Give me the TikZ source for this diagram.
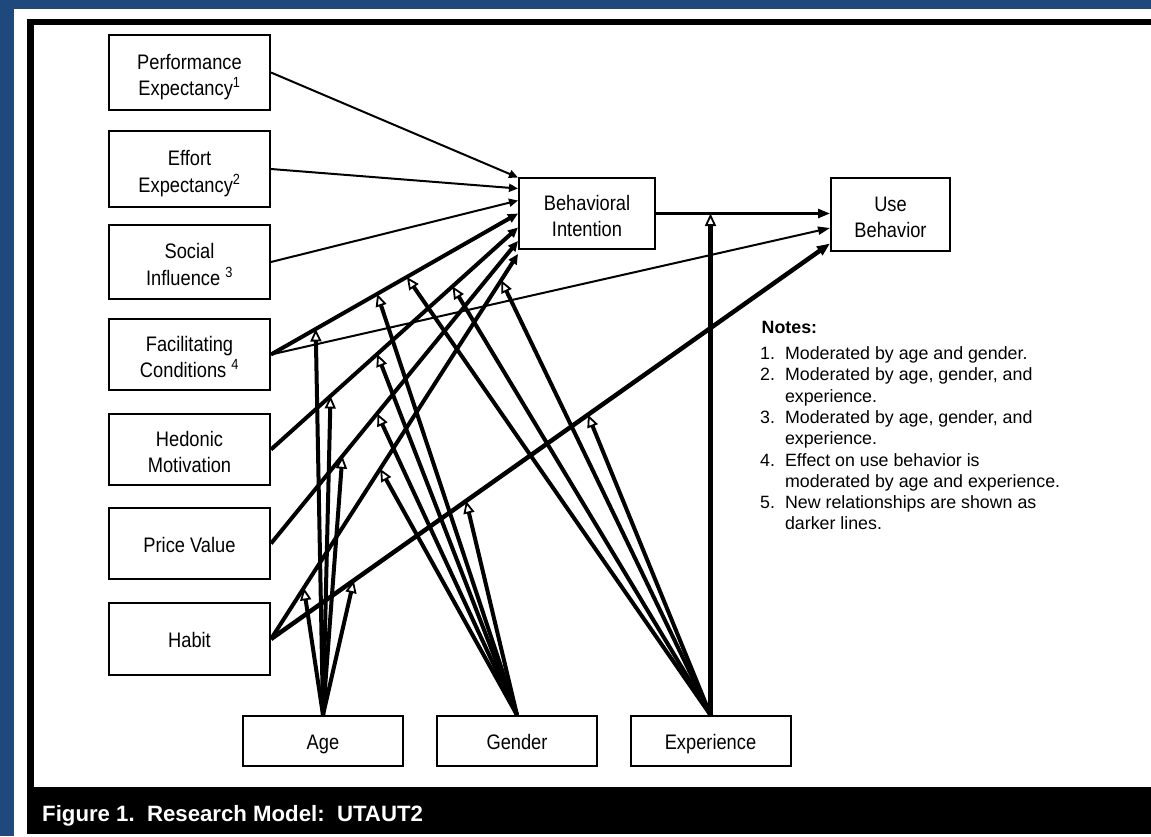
\documentclass[tikz,border=0pt]{standalone}
\usepackage{fontspec}
\setmainfont{Liberation Sans}
\newfontfamily\boxfont[FakeStretch=0.87]{Liberation Sans}
\usetikzlibrary{arrows.meta,calc}
\definecolor{bgblue}{RGB}{31,73,125}
\newcommand{\twoline}[2]{\rule{0pt}{24.7pt}#1\\#2\rule[-5pt]{0pt}{5pt}}
\begin{document}
\begin{tikzpicture}[x=1pt,y=-1pt,
  box/.style={draw, line width=2pt, fill=white, inner sep=0pt, align=center,
    font=\boxfont\fontsize{21}{26.3}\selectfont},
  lbox/.style={box, minimum width=161pt},
  mbox/.style={box, minimum width=160pt, minimum height=50pt, text height=17.1pt, text depth=0pt},
  one/.style={text height=17.1pt, text depth=0pt},
  oldrel/.style={line width=2pt, -{Triangle[length=9pt,width=8pt]}},
  newrel/.style={line width=4pt, -{Triangle[length=10pt,width=9pt]}},
  modarr/.style={line width=4pt, -{Triangle[open,length=12.5pt,width=11pt,line width=1.8pt,fill=white]}}
]
\useasboundingbox (0,0) rectangle (1151,836);
% background and frame
\fill[bgblue] (0,0) rectangle (1151,836);
\fill[white] (14,9) rectangle (1151,836);
\fill[black] (27,19) rectangle (1151,25);
\fill[black] (27,19) rectangle (34,787);
\fill[black] (27,787) rectangle (1151,834);

% boxes
\node[lbox, minimum height=75pt] (pe) at (189.5,72.5) {\twoline{Performance}{Expectancy\textsuperscript{1}}};
\node[lbox, minimum height=76pt] (ee) at (189.5,169) {\twoline{Effort}{Expectancy\textsuperscript{2}}};
\node[lbox, minimum height=74pt] (si) at (189.5,262) {\twoline{Social}{Influence \textsuperscript{3}}};
\node[lbox, minimum height=71pt] (fc) at (189.5,354.5) {\twoline{Facilitating}{Conditions \textsuperscript{4}}};
\node[lbox, minimum height=71pt] (hm) at (189.5,449.5) {\twoline{Hedonic}{Motivation}};
\node[lbox, one, minimum height=71pt] (pv) at (189.5,543.5) {Price Value};
\node[lbox, one, minimum height=72pt] (ht) at (189.5,639) {Habit};
\node[box, minimum width=136pt, minimum height=71pt] (bi) at (587,213.5) {\twoline{Behavioral}{Intention}};
\node[box, minimum width=119pt, minimum height=73pt] (ub) at (890.5,214.5) {\twoline{Use}{Behavior}};
\node[mbox] (age) at (323,741) {Age};
\node[mbox] (gen) at (517,741) {Gender};
\node[mbox] (exp) at (710.5,741) {Experience};

% relationships to BI
\draw[oldrel] (pe.east) -- ($(bi.west)+(0,-36)$);
\draw[oldrel] (ee.east) -- ($(bi.west)+(0,-25)$);
\draw[oldrel] (si.east) -- ($(bi.west)+(0,-13)$);
\draw[newrel] (fc.east) -- coordinate[pos=0.181] (fcA) coordinate[pos=0.43] (fcG) coordinate[pos=0.55] (fcE) ($(bi.west)+(0,0)$);
\draw[newrel] (hm.east) -- coordinate[pos=0.241] (hmA) coordinate[pos=0.43] (hmG) coordinate[pos=0.735] (hmE) ($(bi.west)+(0,14)$);
\draw[newrel] (pv.east) -- coordinate[pos=0.289] (pvA) coordinate[pos=0.43] (pvG) ($(bi.west)+(0,27.5)$);
\draw[newrel] (ht.east) -- coordinate[pos=0.133] (htA) coordinate[pos=0.442] (htG) coordinate[pos=0.932] (htE) ($(bi.west)+(0,40.5)$);
% relationships to UB
\draw[line width=2.6pt, -{Triangle[length=12pt,width=9pt]}] (bi.east) -- (bi.east -| ub.west);
\draw[line width=2pt, -{Triangle[length=12pt,width=8pt]}] (fc.east) -- ($(ub.west)+(0,13.5)$);
\draw[line width=4.5pt, -{Triangle[length=13pt,width=10pt]}] (ht.east) -- coordinate[pos=0.148] (huA) coordinate[pos=0.349] (huG) coordinate[pos=0.567] (huE) ($(ub.west)+(0,29)$);

% moderators
\foreach \t in {fcA,hmA,pvA,htA,huA} \draw[modarr] (age.north) -- (\t);
\foreach \t in {fcG,hmG,pvG,htG,huG} \draw[modarr] (gen.north) -- (\t);
\foreach \t in {fcE,hmE,htE,huE} \draw[modarr] (exp.north) -- (\t);
\draw[modarr, line width=4.5pt] (exp.north) -- (exp.north |- bi.east);

% notes
\node[anchor=base west, inner sep=0pt, font=\fontsize{17.8}{21.3}\selectfont] (notes) at (760,333.5) {%
\begin{tabular}[t]{@{}l@{\hspace{10pt}}l@{}}
\multicolumn{2}{@{}l@{}}{\hspace{1.5pt}\textbf{Notes:}}\\[4.7pt]
1. & Moderated by age and gender.\\
2. & Moderated by age, gender, and\\
   & experience.\\
3. & Moderated by age, gender, and\\
   & experience.\\
4. & Effect on use behavior is\\
   & moderated by age and experience.\\
5. & New relationships are shown as\\
   & darker lines.
\end{tabular}};

% caption
\node[anchor=base west, inner sep=0pt, text=white, font=\bfseries\fontsize{22.2}{26}\selectfont] (cap) at (42,821) {Figure 1.\ \ Research Model:\ \ UTAUT2};
\end{tikzpicture}
\end{document}
